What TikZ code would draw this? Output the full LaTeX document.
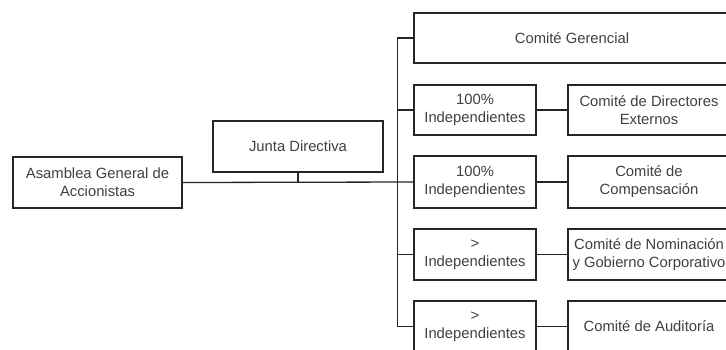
\documentclass[tikz,border=0pt]{standalone}
\usepackage{fontspec}
\setmainfont{Liberation Sans}
\begin{document}
\begin{tikzpicture}[x=1pt,y=-1pt,
  box/.style={draw=black!85, line width=1.3pt, fill=white, align=center, inner sep=0pt,
    font=\fontsize{14.8}{18}\selectfont, text=black!75},
  conn/.style={draw=black!85, line width=1.3pt}]
\useasboundingbox[fill=white] (0,0) rectangle (726,349);
\clip (0,0) rectangle (726,349);
\node[box, minimum width=169pt, minimum height=51pt] (asam) at (97.5,182.5) {Asamblea General de\\Accionistas};
\node[box, minimum width=170pt, minimum height=51pt] (junta) at (298,146.5) {Junta Directiva};
\node[box, minimum width=316pt, minimum height=50pt] (ger) at (572,38) {Comité Gerencial};
\node[box, minimum width=122pt, minimum height=50pt] (i1) at (475,110) {100\%\\Independientes};
\node[box, minimum width=162pt, minimum height=50pt] (dir) at (649,110) {Comité de Directores\\Externos};
\node[box, minimum width=122pt, minimum height=52pt] (i2) at (475,182) {100\%\\Independientes};
\node[box, minimum width=162pt, minimum height=52pt] (comp) at (649,182) {Comité de\\Compensación};
\node[box, minimum width=122pt, minimum height=51pt] (i3) at (475,254.5) {>\\Independientes};
\node[box, minimum width=162pt, minimum height=51pt] (nom) at (649,254.5) {Comité de Nominación\\y Gobierno Corporativo};
\node[box, minimum width=122pt, minimum height=51pt] (i4) at (475,326.5) {>\\Independientes};
\node[box, minimum width=162pt, minimum height=51pt] (aud) at (649,326.5) {Comité de Auditoría};
\draw[conn] (asam.east) -- (i2.west);
\draw[conn] (junta.south) -- (junta.south |- asam.east);
\draw[conn] (ger.west) -- ++(-16,0) coordinate (top) -- (top |- i4.west) -- (i4.west);
\draw[conn] (i1.west) -- (top |- i1.west);
\draw[conn] (i3.west) -- (top |- i3.west);
\draw[conn] (i1.east) -- (dir.west);
\draw[conn] (i2.east) -- (comp.west);
\draw[conn] (i3.east) -- (nom.west);
\draw[conn] (i4.east) -- (aud.west);
\end{tikzpicture}
\end{document}
